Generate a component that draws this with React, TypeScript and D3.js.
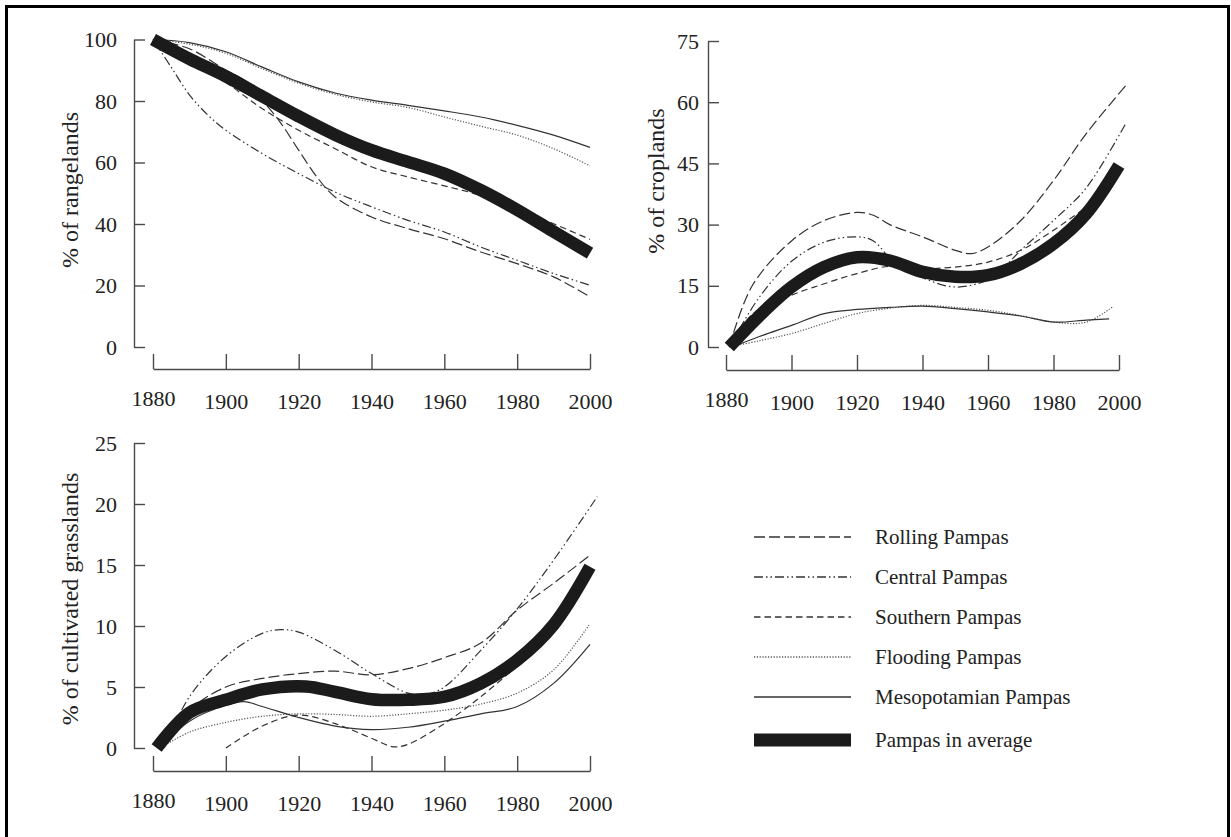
import { useRef, useEffect } from "react";
import * as d3 from "d3";

const YEAR_TICKS = [1880, 1900, 1920, 1940, 1960, 1980, 2000];
const RANGE_TICKS = [0, 20, 40, 60, 80, 100];
const CROP_TICKS = [0, 15, 30, 45, 60, 75];
const GRASS_TICKS = [0, 5, 10, 15, 20, 25];

const REGIONS = ["Rolling Pampas", "Central Pampas", "Southern Pampas", "Flooding Pampas", "Mesopotamian Pampas"];
const AVERAGE_NAME = "Pampas in average";

// % of rangelands
const rangeRolling = [[1880, 100], [1890, 97], [1900, 90], [1905, 86.8], [1910, 80.3], [1915, 73], [1920, 64], [1925, 55.3], [1930, 48.8], [1940, 42.3], [1950, 38.5], [1960, 35.2], [1970, 30.9], [1980, 27.1], [1990, 22.8], [2000, 16.3]];
const rangeCentral = [[1880, 100], [1885, 91], [1890, 82], [1895, 75.5], [1900, 70.5], [1910, 62.9], [1920, 56.4], [1930, 50.4], [1940, 45.6], [1950, 41.2], [1960, 37.4], [1970, 32.5], [1980, 28.2], [1990, 23.9], [2000, 20.1]];
const rangeSouthern = [[1880, 100], [1890, 93], [1900, 86], [1910, 77.5], [1920, 70.5], [1930, 64.5], [1940, 58.6], [1950, 55.3], [1960, 52.4], [1970, 49.3], [1980, 45], [1990, 40.1], [2000, 35]];
const rangeFlooding = [[1880, 100], [1890, 98.5], [1900, 95.5], [1910, 90.5], [1920, 85.8], [1930, 82.2], [1940, 79.7], [1950, 77.9], [1960, 74.8], [1970, 71.8], [1980, 68.9], [1990, 64.5], [2000, 58.9]];
const rangeMeso = [[1880, 100], [1890, 99], [1900, 96], [1910, 91], [1920, 86.2], [1930, 82.6], [1940, 80.3], [1950, 78.6], [1960, 76.8], [1970, 74.8], [1980, 72.1], [1990, 68.9], [2000, 64.9]];
const rangeAverage = [[1880, 100], [1890, 93.7], [1900, 88], [1910, 81.5], [1920, 75], [1930, 69], [1940, 64], [1950, 60.2], [1960, 56.4], [1970, 51], [1980, 44.6], [1990, 37.5], [2000, 30.5]];

// % of croplands
const cropRolling = [[1881, 0], [1888, 15], [1900, 26], [1910, 31], [1920, 33], [1925, 32.3], [1930, 30], [1940, 27], [1950, 23.7], [1955, 22.9], [1960, 24.5], [1970, 31], [1980, 40.8], [1990, 52.3], [2002, 64]];
const cropCentral = [[1881, 0], [1890, 12], [1900, 21], [1910, 25.7], [1920, 27], [1925, 26], [1931, 21], [1940, 17], [1950, 14.7], [1960, 16.5], [1965, 19.6], [1970, 23.7], [1980, 31], [1990, 39], [2002, 54.7]];
const cropSouthern = [[1881, 0], [1888, 8], [1900, 12.7], [1910, 15.5], [1920, 18], [1930, 19.8], [1940, 19.2], [1950, 19.6], [1960, 20.8], [1970, 23.7], [1980, 28.6], [1993, 36]];
const cropFlooding = [[1881, 0], [1890, 1.5], [1900, 3.3], [1910, 5.8], [1920, 8.2], [1930, 9.5], [1940, 10.2], [1950, 9.7], [1960, 9], [1970, 7.7], [1980, 6.1], [1990, 6.1], [1998, 9.8]];
const cropMeso = [[1882, 0], [1890, 2.5], [1900, 5.3], [1910, 8.2], [1920, 9.2], [1930, 9.7], [1940, 10], [1950, 9.4], [1960, 8.6], [1970, 7.6], [1980, 6.1], [1990, 6.6], [1997, 6.9]];
const cropAverage = [[1881, 0], [1890, 7.5], [1900, 14.7], [1910, 19.6], [1920, 22], [1930, 21.2], [1940, 18.4], [1950, 17.2], [1960, 17.6], [1970, 20.4], [1980, 25.3], [1990, 32.7], [2000, 44.5]];

// % of cultivated grasslands
const grassRolling = [[1882, 0], [1890, 3.1], [1900, 5], [1910, 5.7], [1920, 6.1], [1930, 6.3], [1940, 6], [1950, 6.5], [1960, 7.4], [1970, 8.6], [1980, 11.3], [1990, 13.5], [2000, 15.8]];
const grassCentral = [[1883, 0], [1890, 4.2], [1900, 7.5], [1910, 9.4], [1915, 9.7], [1920, 9.5], [1930, 8], [1940, 6.1], [1950, 4.5], [1955, 4.4], [1960, 5], [1970, 8], [1980, 11.4], [1990, 15.4], [2002, 20.6]];
const grassSouthern = [[1900, 0], [1910, 1.8], [1920, 2.7], [1930, 2], [1940, 0.8], [1946, 0.1], [1950, 0.3], [1960, 2], [1970, 4.2], [1978, 6.2]];
const grassFlooding = [[1882, 0], [1890, 1.3], [1900, 2.1], [1910, 2.6], [1920, 2.8], [1930, 2.75], [1940, 2.6], [1950, 2.8], [1960, 3.1], [1970, 3.6], [1980, 4.5], [1990, 6.4], [2000, 10.2]];
const grassMeso = [[1882, 0], [1890, 2.2], [1900, 3.5], [1905, 3.8], [1910, 3.4], [1920, 2.5], [1930, 1.8], [1940, 1.5], [1950, 1.7], [1960, 2.2], [1970, 2.8], [1980, 3.4], [1990, 5.3], [2000, 8.5]];
const grassAverage = [[1881, 0], [1890, 2.9], [1900, 3.95], [1910, 4.8], [1922, 5.05], [1930, 4.6], [1940, 4], [1950, 3.95], [1960, 4.2], [1970, 5.3], [1980, 7.2], [1990, 10.1], [2000, 14.85]];

const FONT = "'Liberation Serif', 'Times New Roman', serif";
const TEXT = "#222";
const AXIS = "#4a4a4a";
const LINE = "#333";
const THICK = "#1b1b1b";

const DASH = {
  "Rolling Pampas": "11,4",
  "Central Pampas": "9,3,1.5,3,1.5,3",
  "Southern Pampas": "6.5,4",
  "Flooding Pampas": "1.2,1.6",
  "Mesopotamian Pampas": null,
};

const PANELS = [
  {
    title: "% of rangelands", ticks: RANGE_TICKS,
    x0: 153, x1: 590, axisY: 369, axisX: 134, yTop: 39.5, yBottom: 347, gap: 17, titleX: 70, titleY: 190,
    series: [rangeRolling, rangeCentral, rangeSouthern, rangeFlooding, rangeMeso], average: rangeAverage,
  },
  {
    title: "% of croplands", ticks: CROP_TICKS,
    x0: 726, x1: 1119, axisY: 370, axisX: 708, yTop: 41, yBottom: 347, gap: 9, titleX: 656, titleY: 181,
    series: [cropRolling, cropCentral, cropSouthern, cropFlooding, cropMeso], average: cropAverage,
  },
  {
    title: "% of cultivated grasslands", ticks: GRASS_TICKS,
    x0: 153, x1: 590, axisY: 771, axisX: 134, yTop: 443, yBottom: 748, gap: 17, titleX: 70, titleY: 599,
    series: [grassRolling, grassCentral, grassSouthern, grassFlooding, grassMeso], average: grassAverage,
  },
];

const App = () => {
  const svgRef = useRef(null);

  useEffect(() => {
    const svg = d3.select(svgRef.current);
    svg.selectAll("*").remove();

    svg.append("rect")
      .attr("x", 6.5).attr("y", 6.5)
      .attr("width", 1222).attr("height", 845)
      .attr("fill", "#fff")
      .attr("stroke", "#000")
      .attr("stroke-width", 3);

    PANELS.forEach((p) => {
      const g = svg.append("g");
      const xScale = d3.scaleLinear().domain([1880, 2000]).range([p.x0, p.x1]);
      const yScale = d3.scaleLinear().domain([0, d3.max(p.ticks)]).range([p.yBottom, p.yTop]);

      const yAxis = g.append("g")
        .attr("transform", `translate(${p.axisX},0)`)
        .call(d3.axisLeft(yScale).tickValues(p.ticks).tickSize(-11).tickSizeOuter(0).tickPadding(p.gap))
        .attr("font-family", FONT)
        .attr("font-size", 22)
        .attr("color", AXIS);
      yAxis.selectAll("path, line").attr("stroke-width", 1.4);
      yAxis.selectAll("text").attr("fill", TEXT);

      const xAxis = g.append("g")
        .attr("transform", `translate(0,${p.axisY})`)
        .call(d3.axisBottom(xScale).tickValues(YEAR_TICKS).tickFormat(d3.format("d")).tickSize(-15).tickSizeOuter(0).tickPadding(24))
        .attr("font-family", FONT)
        .attr("font-size", 22)
        .attr("color", AXIS);
      xAxis.selectAll("path, line").attr("stroke-width", 1.4);
      xAxis.selectAll("text").attr("fill", TEXT);
      xAxis.selectAll(".tick text").filter((d) => d === 1880).attr("y", 21);

      g.append("text")
        .attr("transform", `translate(${p.titleX},${p.titleY}) rotate(-90)`)
        .attr("text-anchor", "middle")
        .attr("dy", "0.35em")
        .attr("font-family", FONT)
        .attr("font-size", 24)
        .attr("fill", TEXT)
        .text(p.title);

      const line = d3.line()
        .x((d) => xScale(d[0]))
        .y((d) => yScale(d[1]))
        .curve(d3.curveCatmullRom.alpha(0.5));

      p.series.forEach((s, i) => {
        const name = REGIONS[i];
        g.append("path")
          .datum(s)
          .attr("fill", "none")
          .attr("stroke", name === "Flooding Pampas" ? "#555" : LINE)
          .attr("stroke-width", 1.2)
          .attr("stroke-dasharray", DASH[name])
          .attr("d", line);
      });

      g.append("path")
        .datum(p.average)
        .attr("fill", "none")
        .attr("stroke", THICK)
        .attr("stroke-width", 12.5)
        .attr("stroke-linecap", "butt")
        .attr("d", line);
    });

    // legend
    const legendY = d3.scalePoint().domain([...REGIONS, AVERAGE_NAME]).range([537, 737]);
    const legend = svg.append("g");
    REGIONS.forEach((name) => {
      legend.append("line")
        .attr("x1", 754).attr("x2", 851)
        .attr("y1", legendY(name)).attr("y2", legendY(name))
        .attr("stroke", name === "Flooding Pampas" ? "#555" : LINE)
        .attr("stroke-width", 1.3)
        .attr("stroke-dasharray", DASH[name]);
    });
    legend.append("line")
      .attr("x1", 754).attr("x2", 851)
      .attr("y1", legendY(AVERAGE_NAME) + 3).attr("y2", legendY(AVERAGE_NAME) + 3)
      .attr("stroke", THICK)
      .attr("stroke-width", 13);
    [...REGIONS, AVERAGE_NAME].forEach((name) => {
      legend.append("text")
        .attr("x", 875)
        .attr("y", legendY(name) + (name === AVERAGE_NAME ? 3 : 0))
        .attr("dy", "0.33em")
        .attr("font-family", FONT)
        .attr("font-size", 21)
        .attr("fill", TEXT)
        .text(name);
    });
  }, []);

  return (
    <div style={{ position: "absolute", left: 0, top: 0 }}>
      <svg ref={svgRef} width={1231} height={837} style={{ display: "block" }}></svg>
    </div>
  );
};

export default App;
